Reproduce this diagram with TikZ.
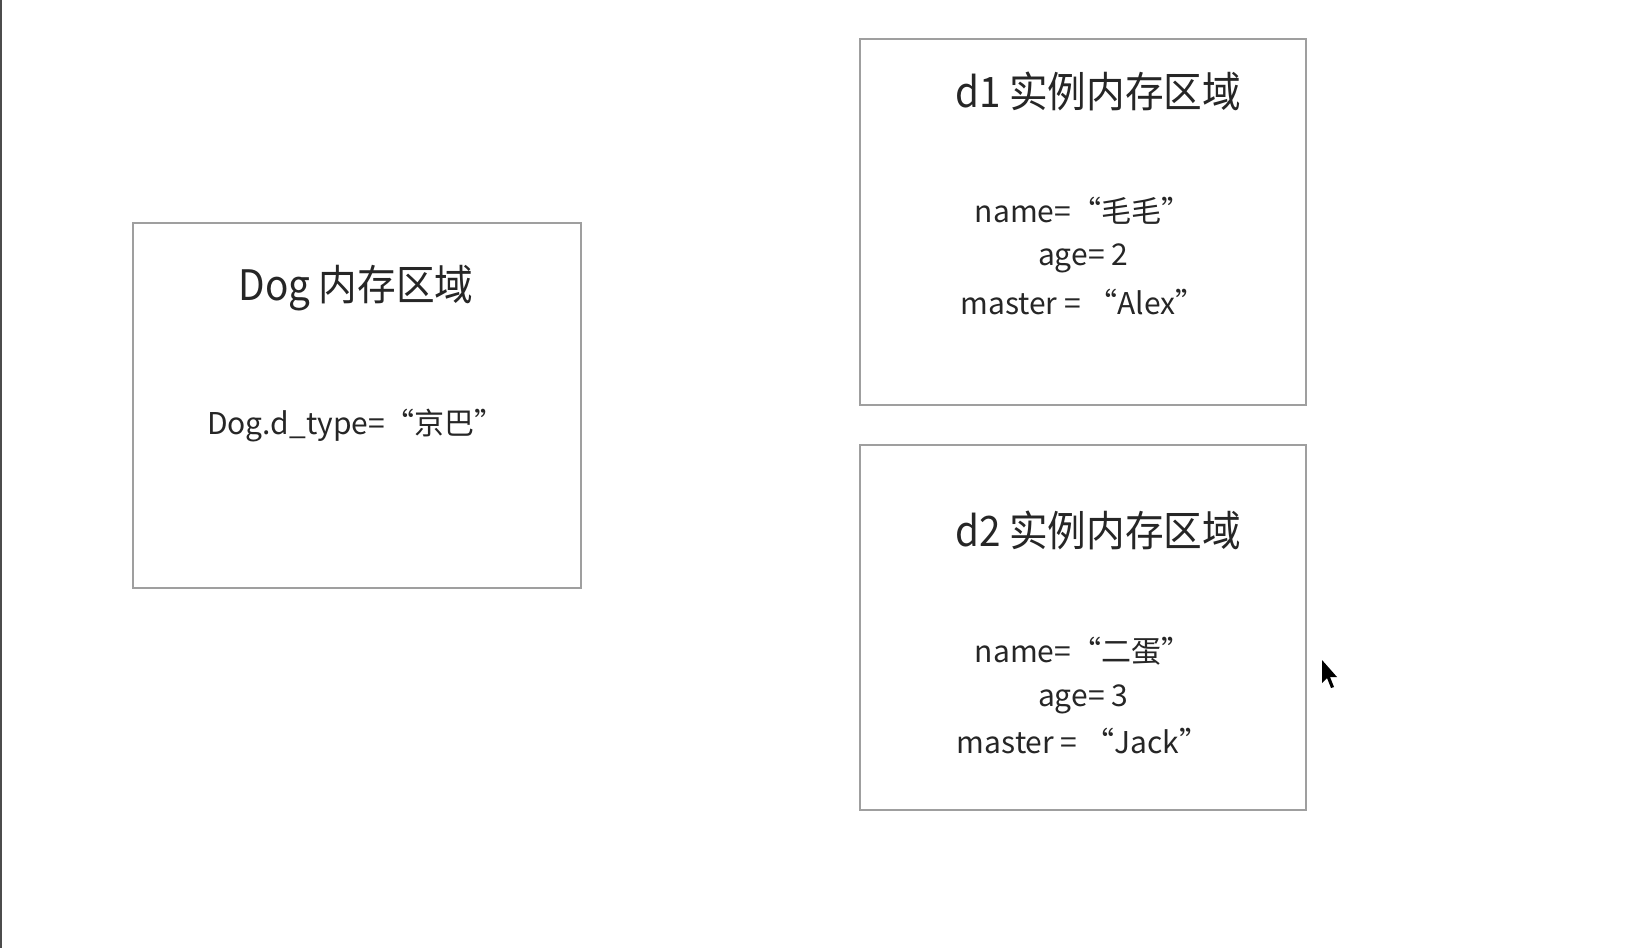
\documentclass[tikz,border=0pt]{standalone}
\usepackage{fontspec}
\setmainfont{Noto Sans CJK SC}[Scale=1]
\begin{document}
\begin{tikzpicture}[x=1pt,y=-1pt,
  mem/.style={draw=gray!75,line width=2pt,fill=white},
  title/.style={font=\fontsize{42}{46}\selectfont\addfontfeature{FakeStretch=0.92},text=black!85},
  txt/.style={font=\fontsize{30}{34}\selectfont,text=black!85}]
\useasboundingbox (0,0) rectangle (1632,948);
\fill[white] (0,0) rectangle (1632,948);
\draw[black!70,line width=2pt] (1,0) -- (1,948);
\draw[mem] (133,223) rectangle (581,588);
\draw[mem] (860,39) rectangle (1306,405);
\draw[mem] (860,445) rectangle (1306,810);
\node[title] (dogt) at (356,288) {Dog 内存区域};
\node[txt] (dogv) at (356,426) {Dog.d\_type=“京巴”};
\node[title] (d1t) at (1098,91) {d1 实例内存区域};
\node[txt] (d1a) at (1083,211) {name=“毛毛”};
\node[txt] (d1b) at (1083,258) {age= 2};
\node[txt] (d1c) at (1083,302) {master = “Alex”};
\node[title] (d2t) at (1098,530) {d2 实例内存区域};
\node[txt] (d2a) at (1083,651) {name=“二蛋”};
\node[txt] (d2b) at (1083,699) {age= 3};
\node[txt] (d2c) at (1083,741) {master = “Jack”};
\fill[black] (1322,660) -- (1322,683) -- (1327,678) -- (1331,688) -- (1334,687) -- (1330,677) -- (1337,677) -- cycle;
\end{tikzpicture}
\end{document}
